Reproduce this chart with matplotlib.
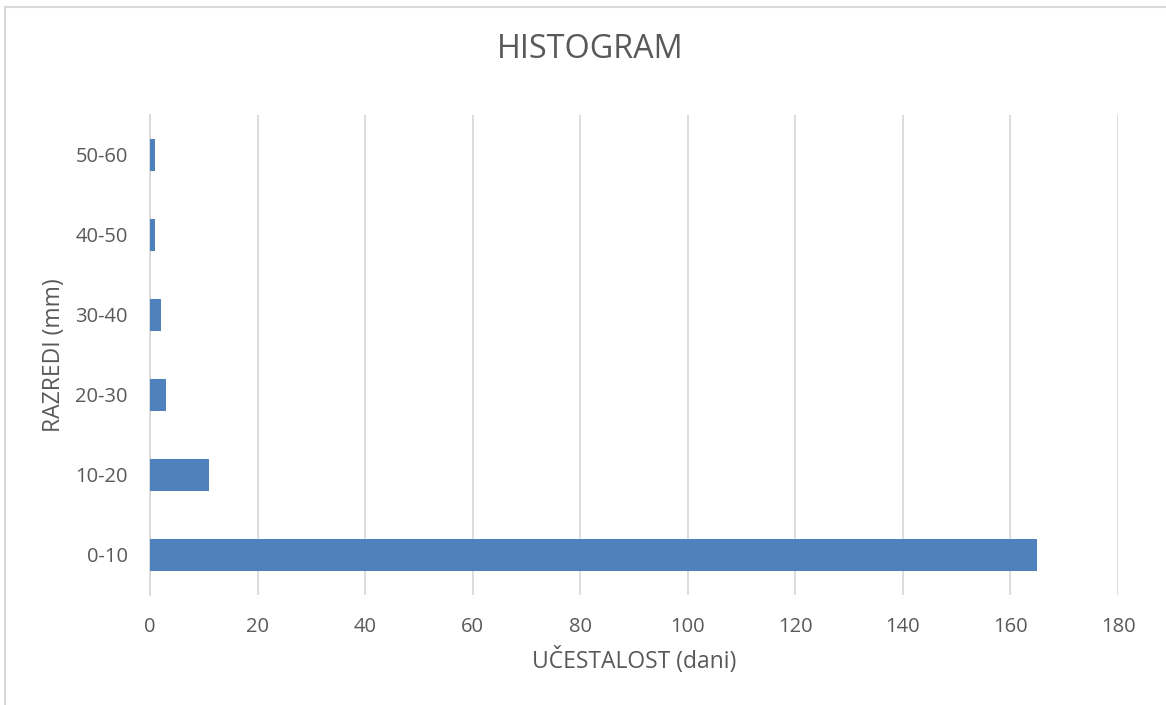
import matplotlib
matplotlib.use("Agg")
import matplotlib.pyplot as plt
from matplotlib.patches import Rectangle

categories = ["0-10", "10-20", "20-30", "30-40", "40-50", "50-60"]
values = [165, 11, 3, 2, 1, 1]
xticks = [0, 20, 40, 60, 80, 100, 120, 140, 160, 180]

plt.rcParams['font.family'] = ['Open Sans', 'DejaVu Sans']
txt = '#595959'

fig = plt.figure(figsize=(11.66, 7.05), dpi=100)
fig.patches.append(Rectangle((5/1166, -0.1), 1.2, (705-7)/705 + 0.1, transform=fig.transFigure,
                             fill=False, edgecolor='#d9d9d9', linewidth=1.5))
ax = fig.add_axes([150/1166, 1 - 595/705, (1118-150)/1166, 480/705])
ax.barh(range(len(categories)), values, height=0.4, color='#4f81bd', zorder=3)
ax.set_xlim(0, 180)
ax.set_ylim(-0.5, len(categories) - 0.5)
ax.set_xticks(xticks)
ax.set_yticks(range(len(categories)))
ax.set_yticklabels(categories)
ax.grid(axis='x', color='#d9d9d9', linewidth=1.3, zorder=0)
for s in ['top', 'right', 'bottom']:
    ax.spines[s].set_visible(False)
ax.spines['left'].set_color('#d9d9d9')
ax.spines['left'].set_linewidth(1.3)
ax.tick_params(length=0, labelsize=14.5, colors=txt)
ax.tick_params(axis='x', pad=16)
ax.tick_params(axis='y', pad=16)
ax.set_xlabel("UČESTALOST (dani)", fontsize=16.5, color=txt, labelpad=7)
ax.set_ylabel("RAZREDI (mm)", fontsize=16.5, color=txt, labelpad=7)
fig.text(590/1166, 1 - 50/705, "HISTOGRAM", ha='center', va='center', fontsize=23.3, color=txt)
fig.savefig("out.png", dpi=100)
